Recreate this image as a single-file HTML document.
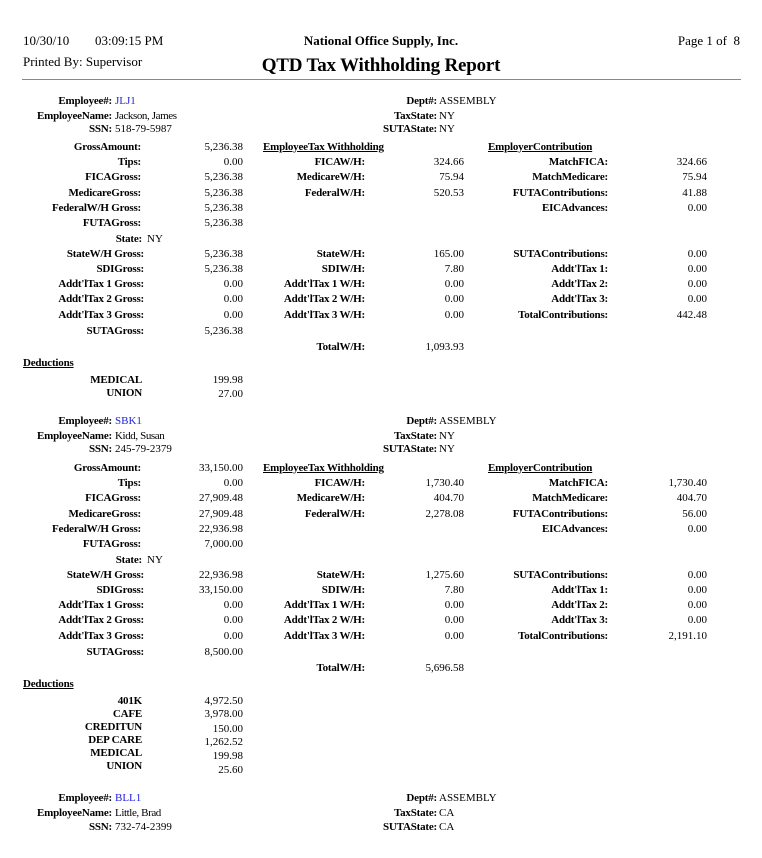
<!DOCTYPE html>
<html><head><meta charset="utf-8"><style>
body{margin:0;width:762px;height:858px;background:#fff;position:relative;overflow:hidden;font-family:"Liberation Serif",serif;color:#000}
div{position:absolute;white-space:nowrap;font-size:11px;line-height:14px}
.b{font-weight:bold;letter-spacing:-0.2px}
.u{text-decoration:underline}
.blue{color:#2222dd}
.v{letter-spacing:0}
</style></head><body>
<div style="left:23px;top:33px;font-size:13px;line-height:16px">10/30/10</div>
<div style="left:95px;top:33px;font-size:13px;line-height:16px">03:09:15 PM</div>
<div style="left:23px;top:54px;font-size:13px;line-height:16px">Printed By: Supervisor</div>
<div class="b" style="left:0;width:762px;text-align:center;top:33px;font-size:13px;line-height:16px;letter-spacing:0">National Office Supply, Inc.</div>
<div class="b" style="left:0;width:762px;text-align:center;top:54px;font-size:19px;line-height:24px;letter-spacing:-0.2px">QTD Tax Withholding Report</div>
<div style="right:22px;top:33px;font-size:13px;line-height:16px">Page 1 of&nbsp; 8</div>
<div style="left:22px;top:79px;width:719px;height:1px;background:#888"></div>

<!-- Block 1 -->
<div class="b" style="right:650px;top:94px">Employee#:</div><div class="blue" style="left:115px;top:94px">JLJ1</div>
<div class="b" style="right:650px;top:109px">EmployeeName:</div><div style="left:115px;top:109px;letter-spacing:-0.4px">Jackson, James</div>
<div class="b" style="right:650px;top:122px">SSN:</div><div style="left:115px;top:122px">518-79-5987</div>
<div class="b" style="right:325px;top:94px">Dept#:</div><div style="left:439px;top:94px">ASSEMBLY</div>
<div class="b" style="right:325px;top:109px">TaxState:</div><div style="left:439px;top:109px">NY</div>
<div class="b" style="right:325px;top:122px">SUTAState:</div><div style="left:439px;top:122px">NY</div>

<div class="b" style="right:621px;top:140px">GrossAmount:</div><div class="v" style="right:519px;top:140px">5,236.38</div>
<div class="b" style="right:621px;top:155px">Tips:</div><div class="v" style="right:519px;top:155px">0.00</div>
<div class="b" style="right:621px;top:170px">FICAGross:</div><div class="v" style="right:519px;top:170px">5,236.38</div>
<div class="b" style="right:621px;top:186px">MedicareGross:</div><div class="v" style="right:519px;top:186px">5,236.38</div>
<div class="b" style="right:621px;top:201px">FederalW/H Gross:</div><div class="v" style="right:519px;top:201px">5,236.38</div>
<div class="b" style="right:621px;top:216px">FUTAGross:</div><div class="v" style="right:519px;top:216px">5,236.38</div>
<div class="b" style="right:620px;top:232px">State:</div><div style="left:147px;top:232px">NY</div>
<div class="b" style="right:618px;top:247px">StateW/H Gross:</div><div class="v" style="right:519px;top:247px">5,236.38</div>
<div class="b" style="right:618px;top:262px">SDIGross:</div><div class="v" style="right:519px;top:262px">5,236.38</div>
<div class="b" style="right:618px;top:277px">Addt'lTax 1 Gross:</div><div class="v" style="right:519px;top:277px">0.00</div>
<div class="b" style="right:618px;top:292px">Addt'lTax 2 Gross:</div><div class="v" style="right:519px;top:292px">0.00</div>
<div class="b" style="right:618px;top:308px">Addt'lTax 3 Gross:</div><div class="v" style="right:519px;top:308px">0.00</div>
<div class="b" style="right:618px;top:324px">SUTAGross:</div><div class="v" style="right:519px;top:324px">5,236.38</div>

<div class="b u" style="left:263px;top:140px">EmployeeTax Withholding</div>
<div class="b" style="right:397px;top:155px">FICAW/H:</div><div class="v" style="right:298px;top:155px">324.66</div>
<div class="b" style="right:397px;top:170px">MedicareW/H:</div><div class="v" style="right:298px;top:170px">75.94</div>
<div class="b" style="right:397px;top:186px">FederalW/H:</div><div class="v" style="right:298px;top:186px">520.53</div>
<div class="b" style="right:397px;top:247px">StateW/H:</div><div class="v" style="right:298px;top:247px">165.00</div>
<div class="b" style="right:397px;top:262px">SDIW/H:</div><div class="v" style="right:298px;top:262px">7.80</div>
<div class="b" style="right:397px;top:277px">Addt'lTax 1 W/H:</div><div class="v" style="right:298px;top:277px">0.00</div>
<div class="b" style="right:397px;top:292px">Addt'lTax 2 W/H:</div><div class="v" style="right:298px;top:292px">0.00</div>
<div class="b" style="right:397px;top:308px">Addt'lTax 3 W/H:</div><div class="v" style="right:298px;top:308px">0.00</div>
<div class="b" style="right:397px;top:340px">TotalW/H:</div><div class="v" style="right:298px;top:340px">1,093.93</div>

<div class="b u" style="left:488px;top:140px">EmployerContribution</div>
<div class="b" style="right:154px;top:155px">MatchFICA:</div><div class="v" style="right:55px;top:155px">324.66</div>
<div class="b" style="right:154px;top:170px">MatchMedicare:</div><div class="v" style="right:55px;top:170px">75.94</div>
<div class="b" style="right:154px;top:186px">FUTAContributions:</div><div class="v" style="right:55px;top:186px">41.88</div>
<div class="b" style="right:154px;top:201px">EICAdvances:</div><div class="v" style="right:55px;top:201px">0.00</div>
<div class="b" style="right:154px;top:247px">SUTAContributions:</div><div class="v" style="right:55px;top:247px">0.00</div>
<div class="b" style="right:154px;top:262px">Addt'lTax 1:</div><div class="v" style="right:55px;top:262px">0.00</div>
<div class="b" style="right:154px;top:277px">Addt'lTax 2:</div><div class="v" style="right:55px;top:277px">0.00</div>
<div class="b" style="right:154px;top:292px">Addt'lTax 3:</div><div class="v" style="right:55px;top:292px">0.00</div>
<div class="b" style="right:154px;top:308px">TotalContributions:</div><div class="v" style="right:55px;top:308px">442.48</div>

<div class="b u" style="left:23px;top:356px">Deductions</div>
<div class="b" style="right:620px;top:373px">MEDICAL</div><div class="v" style="right:519px;top:373px">199.98</div>
<div class="b" style="right:620px;top:386px">UNION</div><div class="v" style="right:519px;top:387px">27.00</div>

<!-- Block 2 -->
<div class="b" style="right:650px;top:414px">Employee#:</div><div class="blue" style="left:115px;top:414px">SBK1</div>
<div class="b" style="right:650px;top:429px">EmployeeName:</div><div style="left:115px;top:429px;letter-spacing:-0.4px">Kidd, Susan</div>
<div class="b" style="right:650px;top:442px">SSN:</div><div style="left:115px;top:442px">245-79-2379</div>
<div class="b" style="right:325px;top:414px">Dept#:</div><div style="left:439px;top:414px">ASSEMBLY</div>
<div class="b" style="right:325px;top:429px">TaxState:</div><div style="left:439px;top:429px">NY</div>
<div class="b" style="right:325px;top:442px">SUTAState:</div><div style="left:439px;top:442px">NY</div>

<div class="b" style="right:621px;top:461px">GrossAmount:</div><div class="v" style="right:519px;top:461px">33,150.00</div>
<div class="b" style="right:621px;top:476px">Tips:</div><div class="v" style="right:519px;top:476px">0.00</div>
<div class="b" style="right:621px;top:491px">FICAGross:</div><div class="v" style="right:519px;top:491px">27,909.48</div>
<div class="b" style="right:621px;top:507px">MedicareGross:</div><div class="v" style="right:519px;top:507px">27,909.48</div>
<div class="b" style="right:621px;top:522px">FederalW/H Gross:</div><div class="v" style="right:519px;top:522px">22,936.98</div>
<div class="b" style="right:621px;top:537px">FUTAGross:</div><div class="v" style="right:519px;top:537px">7,000.00</div>
<div class="b" style="right:620px;top:553px">State:</div><div style="left:147px;top:553px">NY</div>
<div class="b" style="right:618px;top:568px">StateW/H Gross:</div><div class="v" style="right:519px;top:568px">22,936.98</div>
<div class="b" style="right:618px;top:583px">SDIGross:</div><div class="v" style="right:519px;top:583px">33,150.00</div>
<div class="b" style="right:618px;top:598px">Addt'lTax 1 Gross:</div><div class="v" style="right:519px;top:598px">0.00</div>
<div class="b" style="right:618px;top:613px">Addt'lTax 2 Gross:</div><div class="v" style="right:519px;top:613px">0.00</div>
<div class="b" style="right:618px;top:629px">Addt'lTax 3 Gross:</div><div class="v" style="right:519px;top:629px">0.00</div>
<div class="b" style="right:618px;top:645px">SUTAGross:</div><div class="v" style="right:519px;top:645px">8,500.00</div>

<div class="b u" style="left:263px;top:461px">EmployeeTax Withholding</div>
<div class="b" style="right:397px;top:476px">FICAW/H:</div><div class="v" style="right:298px;top:476px">1,730.40</div>
<div class="b" style="right:397px;top:491px">MedicareW/H:</div><div class="v" style="right:298px;top:491px">404.70</div>
<div class="b" style="right:397px;top:507px">FederalW/H:</div><div class="v" style="right:298px;top:507px">2,278.08</div>
<div class="b" style="right:397px;top:568px">StateW/H:</div><div class="v" style="right:298px;top:568px">1,275.60</div>
<div class="b" style="right:397px;top:583px">SDIW/H:</div><div class="v" style="right:298px;top:583px">7.80</div>
<div class="b" style="right:397px;top:598px">Addt'lTax 1 W/H:</div><div class="v" style="right:298px;top:598px">0.00</div>
<div class="b" style="right:397px;top:613px">Addt'lTax 2 W/H:</div><div class="v" style="right:298px;top:613px">0.00</div>
<div class="b" style="right:397px;top:629px">Addt'lTax 3 W/H:</div><div class="v" style="right:298px;top:629px">0.00</div>
<div class="b" style="right:397px;top:661px">TotalW/H:</div><div class="v" style="right:298px;top:661px">5,696.58</div>

<div class="b u" style="left:488px;top:461px">EmployerContribution</div>
<div class="b" style="right:154px;top:476px">MatchFICA:</div><div class="v" style="right:55px;top:476px">1,730.40</div>
<div class="b" style="right:154px;top:491px">MatchMedicare:</div><div class="v" style="right:55px;top:491px">404.70</div>
<div class="b" style="right:154px;top:507px">FUTAContributions:</div><div class="v" style="right:55px;top:507px">56.00</div>
<div class="b" style="right:154px;top:522px">EICAdvances:</div><div class="v" style="right:55px;top:522px">0.00</div>
<div class="b" style="right:154px;top:568px">SUTAContributions:</div><div class="v" style="right:55px;top:568px">0.00</div>
<div class="b" style="right:154px;top:583px">Addt'lTax 1:</div><div class="v" style="right:55px;top:583px">0.00</div>
<div class="b" style="right:154px;top:598px">Addt'lTax 2:</div><div class="v" style="right:55px;top:598px">0.00</div>
<div class="b" style="right:154px;top:613px">Addt'lTax 3:</div><div class="v" style="right:55px;top:613px">0.00</div>
<div class="b" style="right:154px;top:629px">TotalContributions:</div><div class="v" style="right:55px;top:629px">2,191.10</div>

<div class="b u" style="left:23px;top:677px">Deductions</div>
<div class="b" style="right:620px;top:694px">401K</div><div class="v" style="right:519px;top:694px">4,972.50</div>
<div class="b" style="right:620px;top:707px">CAFE</div><div class="v" style="right:519px;top:707px">3,978.00</div>
<div class="b" style="right:620px;top:720px">CREDITUN</div><div class="v" style="right:519px;top:722px">150.00</div>
<div class="b" style="right:620px;top:733px">DEP CARE</div><div class="v" style="right:519px;top:735px">1,262.52</div>
<div class="b" style="right:620px;top:746px">MEDICAL</div><div class="v" style="right:519px;top:749px">199.98</div>
<div class="b" style="right:620px;top:759px">UNION</div><div class="v" style="right:519px;top:763px">25.60</div>

<!-- Block 3 -->
<div class="b" style="right:650px;top:791px">Employee#:</div><div class="blue" style="left:115px;top:791px">BLL1</div>
<div class="b" style="right:650px;top:806px">EmployeeName:</div><div style="left:115px;top:806px;letter-spacing:-0.4px">Little, Brad</div>
<div class="b" style="right:650px;top:820px">SSN:</div><div style="left:115px;top:820px">732-74-2399</div>
<div class="b" style="right:325px;top:791px">Dept#:</div><div style="left:439px;top:791px">ASSEMBLY</div>
<div class="b" style="right:325px;top:806px">TaxState:</div><div style="left:439px;top:806px">CA</div>
<div class="b" style="right:325px;top:820px">SUTAState:</div><div style="left:439px;top:820px">CA</div>
</body></html>
